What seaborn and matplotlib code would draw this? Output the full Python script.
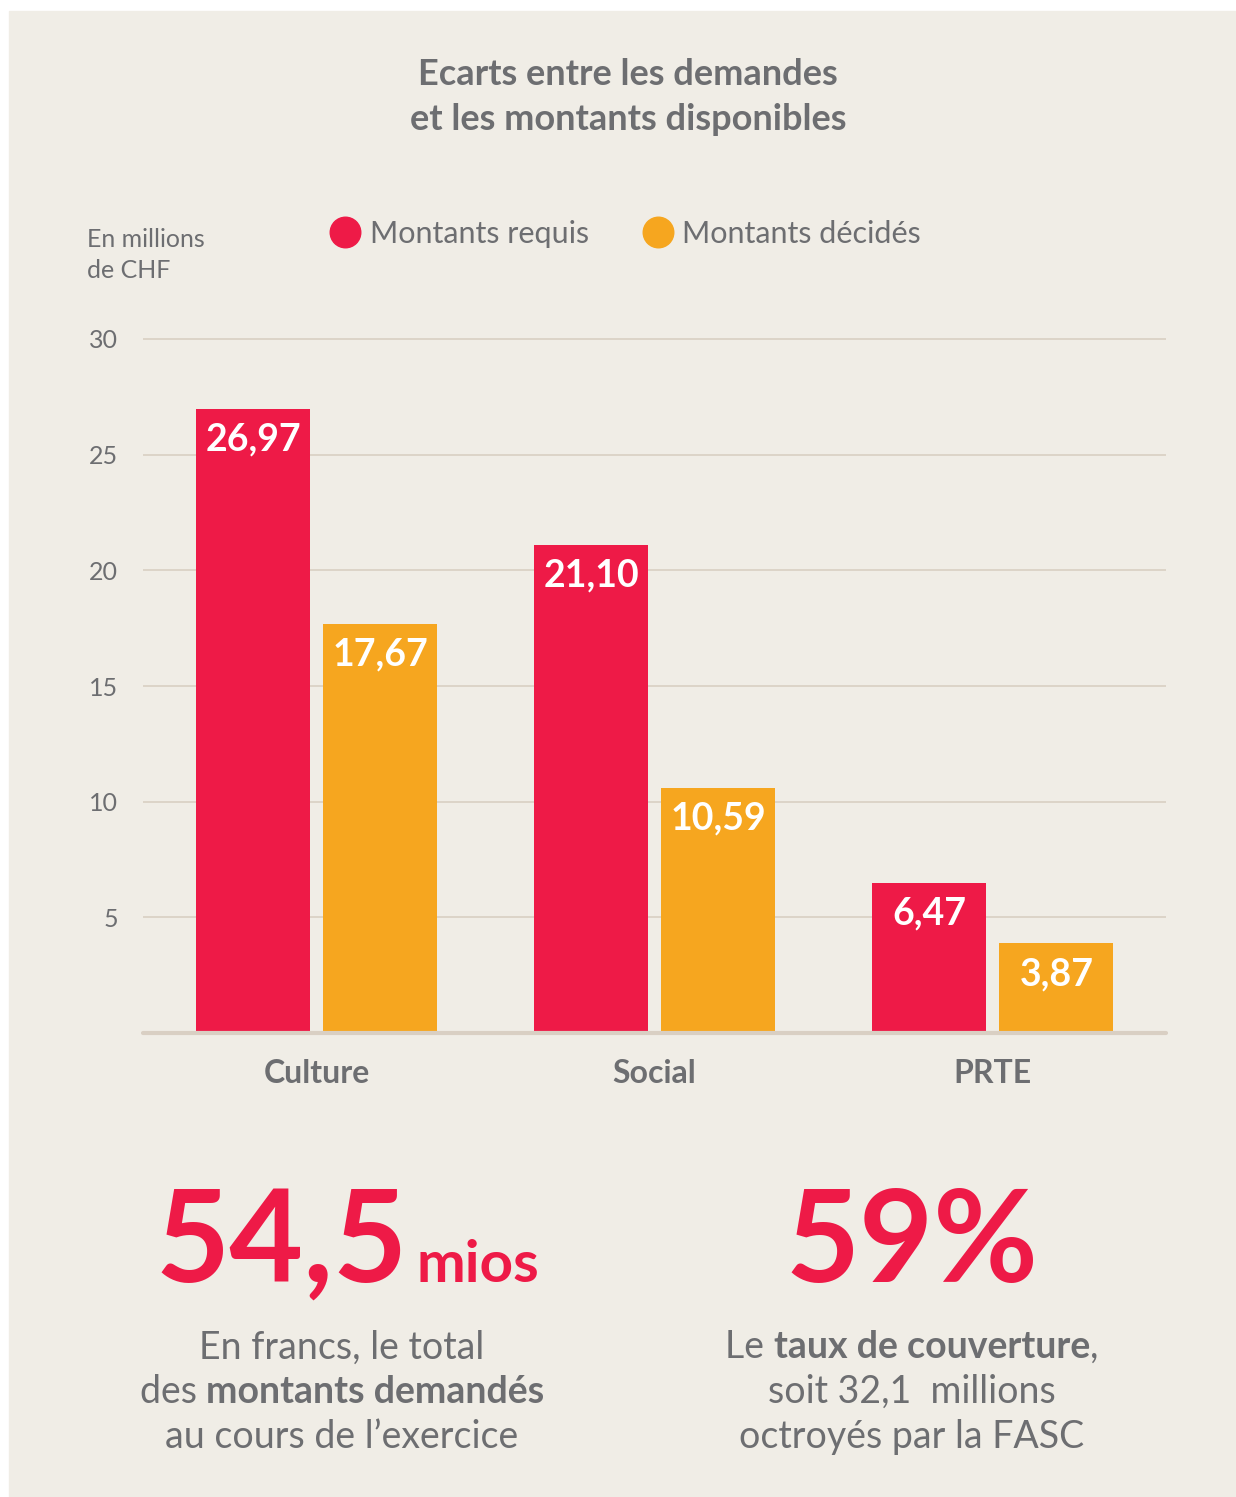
import matplotlib
matplotlib.use("Agg")
import matplotlib.pyplot as plt
from matplotlib.lines import Line2D
from matplotlib.patches import Rectangle
import seaborn as sns
import pandas as pd

categories = ["Culture", "Social", "PRTE"]
series = ["Montants requis", "Montants décidés"]
requis = [26.97, 21.10, 6.47]
decides = [17.67, 10.59, 3.87]
yticks = [5, 10, 15, 20, 25, 30]

RED = "#ee1a47"
ORANGE = "#f6a61f"
GRAY = "#6d6e71"
BG = "#f0ede6"
GRID = "#d9cfc3"

df = pd.DataFrame({
    "cat": categories * 2,
    "serie": [series[0]] * len(categories) + [series[1]] * len(categories),
    "val": requis + decides,
})

sns.set_theme(style="white")
plt.rcParams["font.family"] = ["Lato", "DejaVu Sans"]

W, H = 1236, 1497
fig = plt.figure(figsize=(W / 100, H / 100), dpi=100)
fig.patch.set_facecolor("white")
fig.add_artist(Rectangle((9 / W, 0), 1 - 9 / W, 1 - 11 / H, transform=fig.transFigure,
                         color=BG, zorder=-10))


def fy(y):
    return 1 - y / H


# axes: y=0 at px 1033, y=30 at px 339
unit = (1033 - 339) / 30
ytop = 30.5
ax = fig.add_axes([143 / W, fy(1033), (1166 - 143) / W, ytop * unit / H])
ax.set_facecolor("none")

sns.barplot(data=df, x="cat", y="val", hue="serie", palette=[RED, ORANGE],
            width=0.751, gap=0.102, saturation=1, linewidth=0, legend=False,
            ax=ax, zorder=3)

ax.set_xlim(-0.513, 2.512)
ax.set_ylim(0, ytop)
ax.set_yticks(yticks)
ax.yaxis.grid(True, color=GRID, lw=1.2)
ax.set_axisbelow(True)
ax.axhline(0, color=GRID, lw=3, zorder=4, clip_on=False)
for s in ax.spines.values():
    s.set_visible(False)
ax.set_xlabel("")
ax.set_ylabel("")
ax.tick_params(axis="y", length=0, pad=18, labelsize=18, labelcolor=GRAY)
ax.tick_params(axis="x", length=0, pad=19, labelsize=23, labelcolor=GRAY)
for lbl in ax.get_xticklabels():
    lbl.set_fontweight("bold")

# value labels inside bars
for cont in ax.containers:
    for bar in cont:
        v = bar.get_height()
        ax.annotate(f"{v:.2f}".replace(".", ","),
                    (bar.get_x() + bar.get_width() / 2, v),
                    xytext=(0, -22), textcoords="offset points",
                    ha="center", va="center", color="white",
                    fontsize=27, fontweight="bold", zorder=5)

# title
fig.text(628 / W, fy(85), "Ecarts entre les demandes", ha="center", va="baseline",
         fontsize=26, fontweight="bold", color=GRAY)
fig.text(628 / W, fy(130), "et les montants disponibles", ha="center", va="baseline",
         fontsize=26, fontweight="bold", color=GRAY)

# unit label
fig.text(87 / W, fy(247), "En millions", ha="left", va="baseline", fontsize=18, color=GRAY)
fig.text(87 / W, fy(278), "de CHF", ha="left", va="baseline", fontsize=18, color=GRAY)

# legend
handles = [Line2D([], [], marker="o", ls="", markersize=22, markerfacecolor=c,
                  markeredgecolor=c) for c in [RED, ORANGE]]
fig.legend(handles, series, ncol=2, loc="center left", bbox_to_anchor=(330 / W, fy(234)),
           frameon=False, fontsize=22, labelcolor=GRAY, handlelength=1,
           handletextpad=0.3, columnspacing=1.75, borderpad=0, borderaxespad=0)

# big numbers
fig.text(155 / W, fy(1282), "54,5", ha="left", va="baseline", fontsize=92,
         fontweight="bold", color=RED)
fig.text(417 / W, fy(1282), "mios", ha="left", va="baseline", fontsize=42,
         fontweight="bold", color=RED)
fig.text(912 / W, fy(1282), "59%", ha="center", va="baseline", fontsize=92,
         fontweight="bold", color=RED)

# mixed-weight lines, centered
renderer = fig.canvas.get_renderer()


def mixed_line(xc, ybase, parts, size=27):
    texts = []
    for txt, weight in parts:
        t = fig.text(0, fy(ybase), txt, ha="left", va="baseline", fontsize=size,
                     fontweight=weight, color=GRAY)
        texts.append(t)
    widths = [t.get_window_extent(renderer).width for t in texts]
    x = xc - sum(widths) / 2
    for t, w in zip(texts, widths):
        t.set_x(x / W)
        x += w


mixed_line(342, 1359, [("En francs, le total", "normal")])
mixed_line(342, 1403, [("des ", "normal"), ("montants demandés", "bold")])
mixed_line(342, 1448, [("au cours de l\u2019exercice", "normal")])

mixed_line(912, 1358, [("Le ", "normal"), ("taux de couverture", "bold"), (",", "normal")])
mixed_line(912, 1403, [("soit 32,1  millions", "normal")])
mixed_line(912, 1448, [("octroyés par la FASC", "normal")])

fig.savefig("out.png", dpi=100, facecolor=fig.get_facecolor())
